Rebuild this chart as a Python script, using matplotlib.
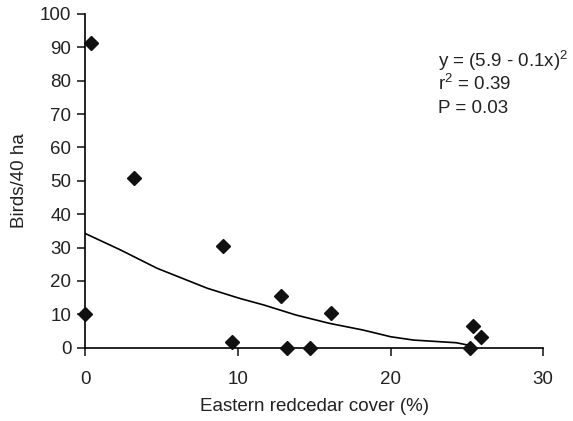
import matplotlib
matplotlib.use("Agg")
import matplotlib.pyplot as plt

plt.rcParams['font.family'] = ['Liberation Sans', 'DejaVu Sans']
plt.rcParams['mathtext.fontset'] = 'custom'
plt.rcParams['mathtext.rm'] = 'Liberation Sans'
plt.rcParams['mathtext.default'] = 'regular'

# observed sites: cedar cover (%) vs birds per 40 ha
cover = [0.0, 0.4, 3.2, 9.0, 9.6, 12.8, 13.2, 14.7, 16.1, 25.2, 25.4, 25.9]
birds = [10.2, 91.3, 50.7, 30.4, 1.8, 15.4, 0.0, 0.0, 10.3, 0.0, 6.6, 3.3]

# fitted trend line
fit_x = [0.0, 2.3, 4.7, 8.0, 10.1, 11.7, 13.8, 16.0, 18.2, 20.0, 21.5, 24.3, 25.3]
fit_y = [34.2, 29.3, 23.8, 17.8, 14.8, 12.8, 9.8, 7.3, 5.3, 3.3, 2.3, 1.5, 0.6]

x_ticks = [0, 10, 20, 30]
y_ticks = [0, 10, 20, 30, 40, 50, 60, 70, 80, 90, 100]

fs = 13.5
txt = '#222222'

fig = plt.figure(figsize=(5.73, 4.21), dpi=100)
ax = fig.add_axes([0.149, 0.174, 0.799, 0.793])

ax.plot(fit_x, fit_y, color='black', lw=1.2, zorder=2)
ax.plot(cover, birds, linestyle='none', marker='D', markersize=7.5,
        color='#111111', clip_on=False, zorder=3)

ax.set_xlim(0, 30)
ax.set_ylim(0, 100)
ax.set_xticks(x_ticks)
ax.set_yticks(y_ticks)
ax.spines['top'].set_visible(False)
ax.spines['right'].set_visible(False)
for s in ('left', 'bottom'):
    ax.spines[s].set_linewidth(1.2)
ax.tick_params(direction='out', length=6, width=1.2, labelsize=fs,
               colors=txt, pad=4)
ax.tick_params(axis='x', pad=11)

ax.set_xlabel('Eastern redcedar cover (%)', fontsize=fs, color=txt, labelpad=7)
ax.set_ylabel('Birds/40 ha', fontsize=fs, color=txt, labelpad=9)

ax.text(23.1, 85.8, 'y = (5.9 - 0.1x)$^{2}$', fontsize=fs, color=txt, va='center')
ax.text(23.1, 78.9, 'r$^{2}$ = 0.39', fontsize=fs, color=txt, va='center')
ax.text(23.1, 71.8, 'P = 0.03', fontsize=fs, color=txt, va='center')

fig.savefig('out.png', dpi=100)
